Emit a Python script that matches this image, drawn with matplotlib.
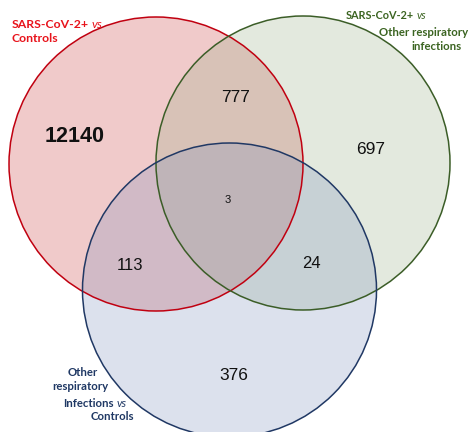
import matplotlib.pyplot as plt
from matplotlib.patches import Circle

# comparison sets and number of genes in each region of the diagram
set_names = [
    'SARS-CoV-2+ vs Controls',
    'SARS-CoV-2+ vs Other respiratory infections',
    'Other respiratory Infections vs Controls',
]
only_a, only_b, only_c = 12140, 697, 376
a_and_b, a_and_c, b_and_c = 777, 113, 24
all_three = 3

edge_colors = ['#c00010', '#3b5d27', '#203864']
fill_colors = ['#c72f2f', '#93ab7f', '#778bbb']
label_colors = ['#e8131b', '#3b6421', '#1f3864']


def bold_vs(ax, x, y, head, color, size, ha='left'):
    t = ax.text(x, y, head, color=color, fontsize=size, fontweight='bold',
                family='Lato', ha=ha, va='bottom')
    ax.annotate('vs', xy=(1, 0), xycoords=t, xytext=(2, 0),
                textcoords='offset points', color=color, fontsize=size,
                fontstyle='italic', family='Lato', va='bottom')
    return t


def draw_venn():
    fig = plt.figure(figsize=(4.74, 4.32), dpi=100)
    ax = fig.add_axes([0, 0, 1, 1])
    ax.set_xlim(0, 474)
    ax.set_ylim(432, 0)
    ax.axis('off')

    centers = [(156, 164), (303, 163), (229.5, 290)]
    r = 147
    for (cx, cy), fc in zip(centers, fill_colors):
        ax.add_patch(Circle((cx, cy), r, facecolor=fc, alpha=0.25,
                            edgecolor='none'))
    for (cx, cy), ec in zip(centers, edge_colors):
        ax.add_patch(Circle((cx, cy), r, facecolor='none', edgecolor=ec,
                            linewidth=1.1))

    num = dict(family='Liberation Sans', ha='center', va='center',
               color='#111111')
    ax.text(75, 137, f'{only_a}', fontsize=15.5, fontweight='bold', **num)
    ax.text(236, 97, f'{a_and_b}', fontsize=12.5, **num)
    ax.text(371, 149, f'{only_b}', fontsize=12.5, **num)
    ax.text(228, 200, f'{all_three}', fontsize=8, **num)
    ax.text(130, 266, f'{a_and_c}', fontsize=12, **num)
    ax.text(311, 264, f'{b_and_c}', fontsize=12, **num)
    ax.text(234, 376, f'{only_c}', fontsize=12.5, **num)

    # set titles
    lab = dict(fontweight='bold', family='Lato', va='center')
    bold_vs(ax, 12, 30, 'SARS-CoV-2+', label_colors[0], 8.8)
    ax.text(12, 38, 'Controls', color=label_colors[0], fontsize=8.8, **lab)

    bold_vs(ax, 346, 21, 'SARS-CoV-2+', label_colors[1], 7.8)
    ax.text(379, 32, 'Other respiratory', color=label_colors[1], fontsize=8.2, **lab)
    ax.text(411, 46, 'infections', color=label_colors[1], fontsize=8.2, **lab)

    ax.text(68, 373, 'Other', color=label_colors[2], fontsize=8.2, **lab)
    ax.text(52, 387, 'respiratory', color=label_colors[2], fontsize=8.2, **lab)
    bold_vs(ax, 63, 409, 'Infections', label_colors[2], 8.2)
    ax.text(91, 417, 'Controls', color=label_colors[2], fontsize=8.2, **lab)

    fig.savefig('out.png', dpi=100)


if __name__ == '__main__':
    draw_venn()
